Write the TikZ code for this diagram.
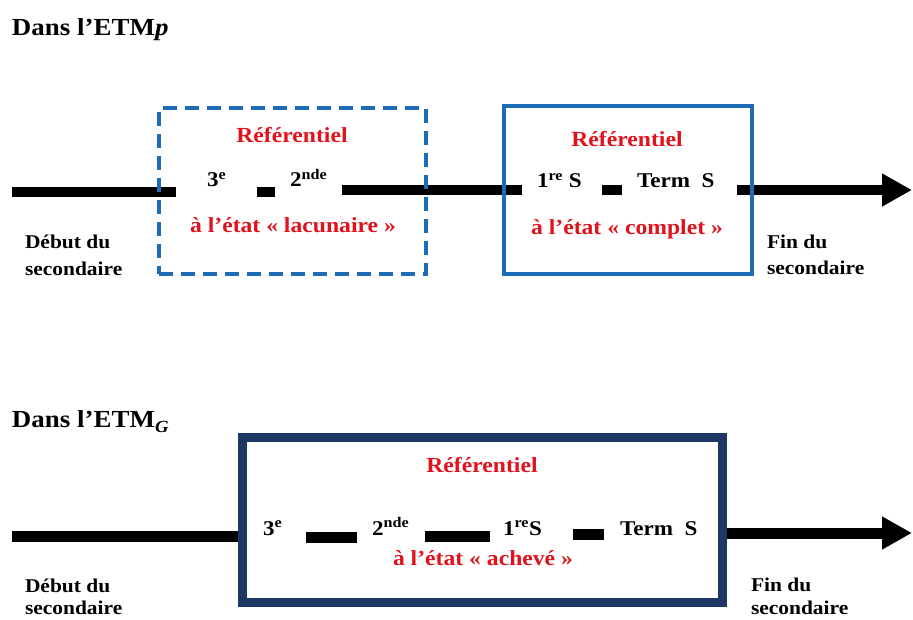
\documentclass[tikz,border=0pt]{standalone}
\usepackage{fontspec}
\setmainfont[FakeStretch=1.1]{Liberation Serif}
\usetikzlibrary{arrows.meta}
\definecolor{refred}{RGB}{226,18,28}
\definecolor{boxblue}{RGB}{30,108,184}
\definecolor{navy}{RGB}{30,55,100}
\begin{document}
\begin{tikzpicture}[x=1pt,y=-1pt,
  every node/.style={inner sep=0pt, outer sep=0pt},
  title/.style={anchor=base west, font=\fontsize{24.5}{28}\selectfont\bfseries},
  reftxt/.style={anchor=base, text=refred, font=\fontsize{21.5}{24}\selectfont\bfseries},
  lvl/.style={anchor=base west, font=\fontsize{21}{24}\selectfont\bfseries},
  side/.style={anchor=base west, font=\fontsize{19.5}{24}\selectfont\bfseries},
  bar/.style={line width=10pt},
  barG/.style={line width=11pt},
  tip/.style={-{Triangle[length=30pt,width=31pt]}},
  dashbox/.style={draw=boxblue, line width=4pt, dash pattern=on 14pt off 8pt, minimum width=267pt, minimum height=166pt},
  solidbox/.style={draw=boxblue, line width=4pt, minimum width=248pt, minimum height=168pt},
  navybox/.style={draw=navy, line width=9pt, minimum width=480pt, minimum height=165pt}
]
\useasboundingbox (0,0) rectangle (913,620);

% ---------- ETMp ----------
\node[title] (t1) at (12,36) {Dans l’ETM\textit{p}};

\coordinate (a0) at (12,192);
\coordinate (a1) at (176,192);
\coordinate (a2) at (257,192);
\coordinate (a3) at (275,192);
\coordinate (a4) at (342,190);
\coordinate (a5) at (522,190);
\coordinate (a6) at (602,190);
\coordinate (a7) at (622,190);
\coordinate (a8) at (737,190);
\coordinate (a9) at (912,190);

\draw[bar] (a0) -- (a1);
\draw[bar] (a2) -- (a3);
\draw[bar] (a4) -- (a5);
\draw[bar] (a6) -- (a7);
\draw[bar, tip] (a8) -- (a9);

\node[dashbox] (b1) at (292.5,191) {};
\node[solidbox] (b2) at (628,190) {};

\node[reftxt] (r1) at (292,143) {Référentiel};
\node[lvl] (l1) at (207,187) {3\textsuperscript{e}};
\node[lvl] (l2) at (290,187) {2\textsuperscript{nde}};
\node[reftxt] (s1) at (293,233) {à l’état «~lacunaire~»};

\node[reftxt] (r2) at (627,147) {Référentiel};
\node[lvl] (l3) at (537,188) {1\textsuperscript{re} S};
\node[lvl] (l4) at (637,188) {Term~~S};
\node[reftxt] (s2) at (627,235) {à l’état «~complet~»};

\node[side] (d1) at (25,249) {Début du};
\node[side] (d2) at (25,276) {secondaire};
\node[side] (f1) at (767,249) {Fin du};
\node[side] (f2) at (767,275) {secondaire};

% ---------- ETMG ----------
\node[title] (t2) at (12,427) {Dans l’ETM\raisebox{-0.22em}{\fontsize{17}{17}\selectfont\itshape G}};

\coordinate (c0) at (12,536);
\coordinate (c1) at (242,536);
\coordinate (c2) at (306,537);
\coordinate (c3) at (357,537);
\coordinate (c4) at (425,536);
\coordinate (c5) at (490,536);
\coordinate (c6) at (573,534);
\coordinate (c7) at (604,534);
\coordinate (c8) at (722,533);
\coordinate (c9) at (912,533);

\draw[barG] (c0) -- (c1);
\draw[barG, tip] (c8) -- (c9);

\node[navybox, fill=white] (b3) at (482,519.5) {};

\draw[barG] (c2) -- (c3);
\draw[barG] (c4) -- (c5);
\draw[barG] (c6) -- (c7);

\node[reftxt] (r3) at (482,472) {Référentiel};
\node[lvl] (m1) at (263,535) {3\textsuperscript{e}};
\node[lvl] (m2) at (372,535) {2\textsuperscript{nde}};
\node[lvl] (m3) at (503,535) {1\textsuperscript{re}S};
\node[lvl] (m4) at (620,535) {Term~~S};
\node[reftxt] (s3) at (483,565) {à l’état «~achevé~»};

\node[side] (d3) at (25,592) {Début du};
\node[side] (d4) at (25,614) {secondaire};
\node[side] (f3) at (751,591) {Fin du};
\node[side] (f4) at (751,614) {secondaire};
\end{tikzpicture}
\end{document}
